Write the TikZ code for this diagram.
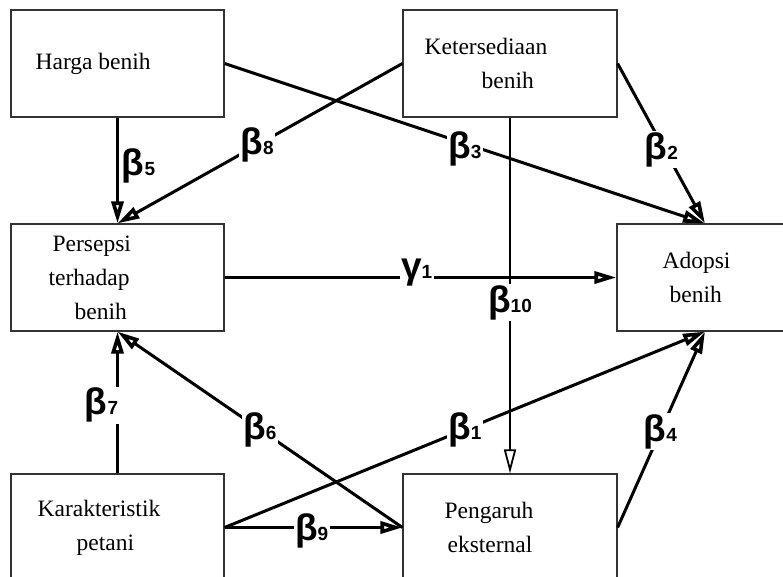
\documentclass[tikz,border=0pt]{standalone}
\usepackage{fontspec}
\setmainfont{Liberation Serif}
\newfontfamily\coeffont{Liberation Sans}
\usetikzlibrary{positioning,arrows.meta}

\tikzset{
  var/.style={draw=black!80, line width=1.2pt, minimum width=213pt, minimum height=107pt, inner sep=0pt},
  vartext/.style={align=left, inner sep=0pt, font=\fontsize{23.5}{34}\selectfont},
  link/.style={line width=3pt, -{Triangle[open, length=22pt, width=12pt, line width=3.6pt]}},
  coef/.style={fill=white, inner sep=1.5pt, font=\coeffont\bfseries\fontsize{37}{37}\selectfont},
}
\newcommand{\coefsub}[2]{#1{\fontsize{19}{19}\selectfont#2}}

\begin{document}
\begin{tikzpicture}[x=1pt, y=-1pt]
  \useasboundingbox (0,0) rectangle (783,576);
  \clip (0,0) rectangle (783,576);

  % variables
  \node[var] (harga) at (117.5,63.5) {};
  \node[var, minimum width=214pt] (sedia) at (510,63.5) {};
  \node[var] (persepsi) at (117.5,277.5) {};
  \node[var, minimum width=176pt] (adopsi) at (705,277.5) {};
  \node[var] (karakter) at (117.5,527.5) {};
  \node[var, minimum width=214pt] (pengaruh) at (510,527.5) {};

  \node[vartext, right=25pt of harga.west] (hargaT) {Harga benih};
  \node[vartext, right=22pt of sedia.west] (sediaT) {Ketersediaan\\\hspace*{57pt}benih};
  \node[vartext, right=38pt of persepsi.west] (persepsiT) {\hspace*{4pt}Persepsi\\terhadap\\\hspace*{26pt}benih};
  \node[vartext, right=46pt of adopsi.west] (adopsiT) {Adopsi\\\hspace*{7pt}benih};
  \node[vartext, right=27pt of karakter.west] (karakterT) {Karakteristik\\\hspace*{39pt}petani};
  \node[vartext, right=42pt of pengaruh.west] (pengaruhT) {Pengaruh\\\hspace*{3pt}eksternal};

  % paths
  \draw[link] (harga.south) -- node[coef, pos=0.46, xshift=21pt] (b5) {\coefsub{β}{5}} (persepsi.north);
  \draw[link] (sedia.west) -- node[coef, pos=0.51] (b8) {\coefsub{β}{8}} (persepsi.north);
  \draw[link] (harga.east) -- node[coef, pos=0.5, yshift=-5pt] (b3) {\coefsub{β}{3}} (adopsi.north);
  \draw[link] (sedia.east) -- node[coef, pos=0.5, yshift=-6pt] (b2) {\coefsub{β}{2}} (adopsi.north);
  \draw[link] (persepsi.east) -- node[coef, pos=0.49, yshift=5pt] (g1) {\coefsub{γ}{1}} (adopsi.west);
  \draw[link, line width=2.2pt, -{Triangle[open, length=24pt, width=12pt, line width=1.8pt]}] (sedia.south) -- node[coef, pos=0.52] (b10) {\coefsub{β}{10}} (pengaruh.north);
  \draw[link] (karakter.north) -- node[coef, pos=0.48, xshift=-16pt] (b7) {\coefsub{β}{7}} (persepsi.south);
  \draw[link] (pengaruh.west) -- node[coef, pos=0.5] (b6) {\coefsub{β}{6}} (persepsi.south);
  \draw[link] (karakter.east) -- node[coef, pos=0.5] (b1) {\coefsub{β}{1}} (adopsi.south);
  \draw[link] (pengaruh.east) -- node[coef, pos=0.49] (b4) {\coefsub{β}{4}} (adopsi.south);
  \draw[link] (karakter.east) -- node[coef, pos=0.49, yshift=-3pt] (b9) {\coefsub{β}{9}} (pengaruh.west);
\end{tikzpicture}
\end{document}
